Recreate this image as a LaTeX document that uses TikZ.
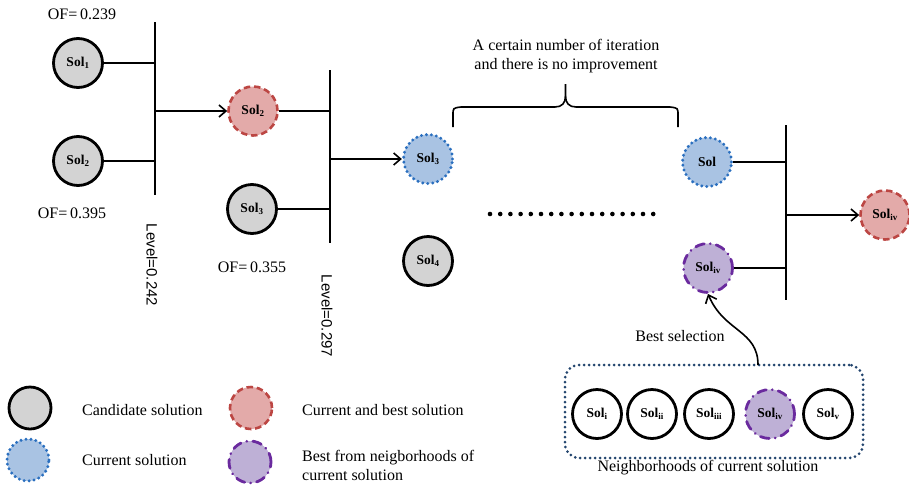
\documentclass[tikz,border=0pt]{standalone}
\usepackage{fontspec}
\setmainfont{Liberation Serif}
\newfontfamily\levelfont{Liberation Sans}
\usetikzlibrary{arrows.meta}

\definecolor{candfill}{HTML}{D3D3D3}
\definecolor{bestfill}{HTML}{E3AAA9}
\definecolor{bestline}{HTML}{BC4643}
\definecolor{curfill}{HTML}{A9C3E3}
\definecolor{curline}{HTML}{2A6FBF}
\definecolor{nbfill}{HTML}{BEB0D6}
\definecolor{nbline}{HTML}{6A2A9E}
\definecolor{boxline}{HTML}{23456E}

\newcommand{\solname}[1]{Sol\textsubscript{\fontsize{9}{9}\selectfont #1}}

\tikzset{
  sol/.style={circle, minimum size=49pt, inner sep=0pt,
    font=\fontsize{13.5}{14}\selectfont\bfseries},
  cand/.style={sol, draw=black, line width=2.8pt, fill=candfill},
  nbsol/.style={sol, draw=black, line width=2.8pt, fill=white},
  bestsol/.style={sol, draw=bestline, line width=2.6pt, fill=bestfill,
    dash pattern=on 6.5pt off 3.8pt},
  cursol/.style={sol, draw=curline, line width=3.3pt, fill=curfill,
    line cap=round, dash pattern=on 0pt off 5pt},
  nbestsol/.style={sol, draw=nbline, line width=2.8pt, fill=nbfill,
    dash pattern=on 9pt off 6pt on 0.1pt off 6pt, line cap=round},
  legend/.style={minimum size=42pt},
  bar/.style={line width=2pt},
  link/.style={line width=1.6pt},
  go/.style={line width=1.6pt, -{Straight Barb[length=7pt,width=12pt]}},
  txt/.style={font=\fontsize{16}{19}\selectfont, inner sep=0pt},
  lvl/.style={font=\levelfont\fontsize{15}{15}\selectfont, rotate=-90, inner sep=0pt}
}

\begin{document}
\begin{tikzpicture}[x=1pt,y=-1pt]
\useasboundingbox (0,0) rectangle (909,485);

% first level: two candidates
\node[cand] (s1) at (78,63) {\solname{1}};
\node[cand] (s2) at (78,161) {\solname{2}};
\node[txt] (of1) at (82,14) {OF=\,0.239};
\node[txt] (of2) at (72,213) {OF=\,0.395};
\coordinate (b1t) at (155,22);
\coordinate (b1b) at (155,195);
\coordinate (b1m) at (155,111);
\draw[bar] (b1t) -- (b1b);
\draw[link] (s1.east) -- (s1.east -| b1t);
\draw[link] (s2.east) -- (s2.east -| b1t);
\node[lvl] (lv1) at (152,265) {Level=0.242};

% second level
\node[bestsol] (r2) at (253,111) {\solname{2}};
\node[cand] (s3) at (252,209) {\solname{3}};
\node[txt] (of3) at (252,267) {OF=\,0.355};
\draw[go] (b1m) -- (r2);
\coordinate (b2t) at (330,70);
\coordinate (b2b) at (330,243);
\coordinate (b2m) at (330,159);
\draw[bar] (b2t) -- (b2b);
\draw[link] (r2.east) -- (r2.east -| b2t);
\draw[link] (s3.east) -- (s3.east -| b2t);
\node[lvl] (lv2) at (327,316) {Level=0.297};

% third level
\node[cursol] (c3) at (428,159) {\solname{3}};
\node[cand] (s4) at (428,261) {\solname{4}};
\draw[go] (b2m) -- (c3);

% iterations without improvement
\draw[line width=4.6pt, line cap=round, dash pattern=on 0pt off 10.2pt] (490,214) -- (653.5,214);
\draw[line width=1.6pt]
  (453,127) -- (453,115) .. controls (453,108) .. (461,107) -- (555,107)
  .. controls (562,107) and (565.5,103) .. (565.5,96) -- (565.5,84);
\draw[line width=1.6pt]
  (678,127) -- (678,115) .. controls (678,108) .. (670,107) -- (576,107)
  .. controls (569,107) and (565.5,103) .. (565.5,96);
\node[txt, align=center] (iter) at (566,56.5) {A certain number of iteration\\and there is no improvement};

% last level
\node[cursol] (cl) at (707,162) {Sol};
\node[nbestsol] (nv) at (708,268) {\solname{iv}};
\coordinate (b3t) at (786,125);
\coordinate (b3b) at (786,300);
\coordinate (b3m) at (786,215);
\draw[bar] (b3t) -- (b3b);
\draw[link] (cl.east) -- (cl.east -| b3t);
\draw[link] (nv.east) -- (nv.east -| b3t);
\node[bestsol] (fin) at (885,215) {\solname{iv}};
\draw[go] (b3m) -- (fin);

% neighborhood of the current solution
\node[draw=boxline, line width=3pt, line cap=round, dash pattern=on 0pt off 5pt,
      rounded corners=14pt, minimum width=298pt, minimum height=93pt, inner sep=0pt]
      (nbox) at (714,411.5) {};
\node[nbsol] (n1) at (597,414) {\solname{i}};
\node[nbsol] (n2) at (652,414) {\solname{ii}};
\node[nbsol] (n3) at (709,414) {\solname{iii}};
\node[nbestsol] (n4) at (770,414) {\solname{iv}};
\node[nbsol] (n5) at (828,414) {\solname{v}};
\node[txt] (nbt) at (708,468) {Neighborhoods of current solution};
\node[txt] (bsel) at (680,336) {Best selection};
\coordinate (selfrom) at (758,365);
\draw[go] (selfrom) .. controls (758,330) and (724,332) .. (nv.south);

% legend
\node[cand, legend] (lg1) at (30,408) {};
\node[cursol, legend] (lg2) at (28,460) {};
\node[bestsol, legend] (lg3) at (251,408) {};
\node[nbestsol, legend] (lg4) at (250,462) {};
\node[txt, anchor=west] (lt1) at (82,410) {Candidate solution};
\node[txt, anchor=west] (lt2) at (82,460) {Current solution};
\node[txt, anchor=west] (lt3) at (302,410) {Current and best solution};
\node[txt, anchor=west, align=left] (lt4) at (302,465) {Best from neigborhoods of\\current solution};
\end{tikzpicture}
\end{document}
